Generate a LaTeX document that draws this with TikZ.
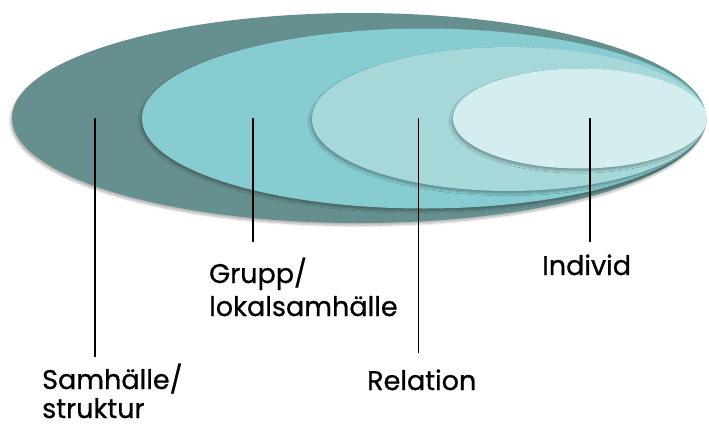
\documentclass[tikz,border=0pt]{standalone}
\usepackage{fontspec}
\setmainfont{Poppins}
\newfontfamily\lblfont{Poppins}[FakeBold=0.8]
\usetikzlibrary{shadows.blur}
\definecolor{cOuter}{RGB}{102,143,143}
\definecolor{cGroup}{RGB}{134,204,208}
\definecolor{cRel}{RGB}{166,216,218}
\definecolor{cInd}{RGB}{212,237,238}
\begin{document}
\begin{tikzpicture}[x=1pt,y=-1pt,
  layer/.style={blur shadow={shadow xshift=-1.5pt, shadow yshift=-2.5pt, shadow blur steps=6, shadow opacity=30}},
  lbl/.style={anchor=base west, inner sep=0pt, text depth=0pt, font=\lblfont\fontsize{27}{33}\selectfont, align=left},
  leader/.style={draw=black, line width=1.1pt}]
\useasboundingbox (0,0) rectangle (709,423);
\fill[cOuter, layer] (359,118) ellipse [x radius=347pt, y radius=105pt];
\fill[cGroup, layer] (424,118.5) ellipse [x radius=282pt, y radius=90pt];
\fill[cRel, layer] (509,119) ellipse [x radius=197pt, y radius=72pt];
\fill[cInd, layer] (580,118.5) ellipse [x radius=127pt, y radius=50pt];
% leader line ends
\coordinate (s1) at (95,118);  \coordinate (e1) at (95,357);
\coordinate (s2) at (253,118); \coordinate (e2) at (253,242);
\coordinate (s3) at (418.5,118); \coordinate (e3) at (418.5,353);
\coordinate (s4) at (590,118); \coordinate (e4) at (590,242);
\draw[leader] (s1) -- (e1);
\draw[leader] (s2) -- (e2);
\draw[leader] (s3) -- (e3);
\draw[leader] (s4) -- (e4);
\node[lbl] (samh) at (42,389) {Samhälle/};
\node[lbl] (samh2) at (42,418) {struktur};
\node[lbl] (grupp) at (209,283) {Grupp/};
\node[lbl] (grupp2) at (209,316) {lokalsamhälle};
\node[lbl] (rel) at (367,390) {Relation};
\node[lbl] (ind) at (542,275) {Individ};
\end{tikzpicture}
\end{document}
